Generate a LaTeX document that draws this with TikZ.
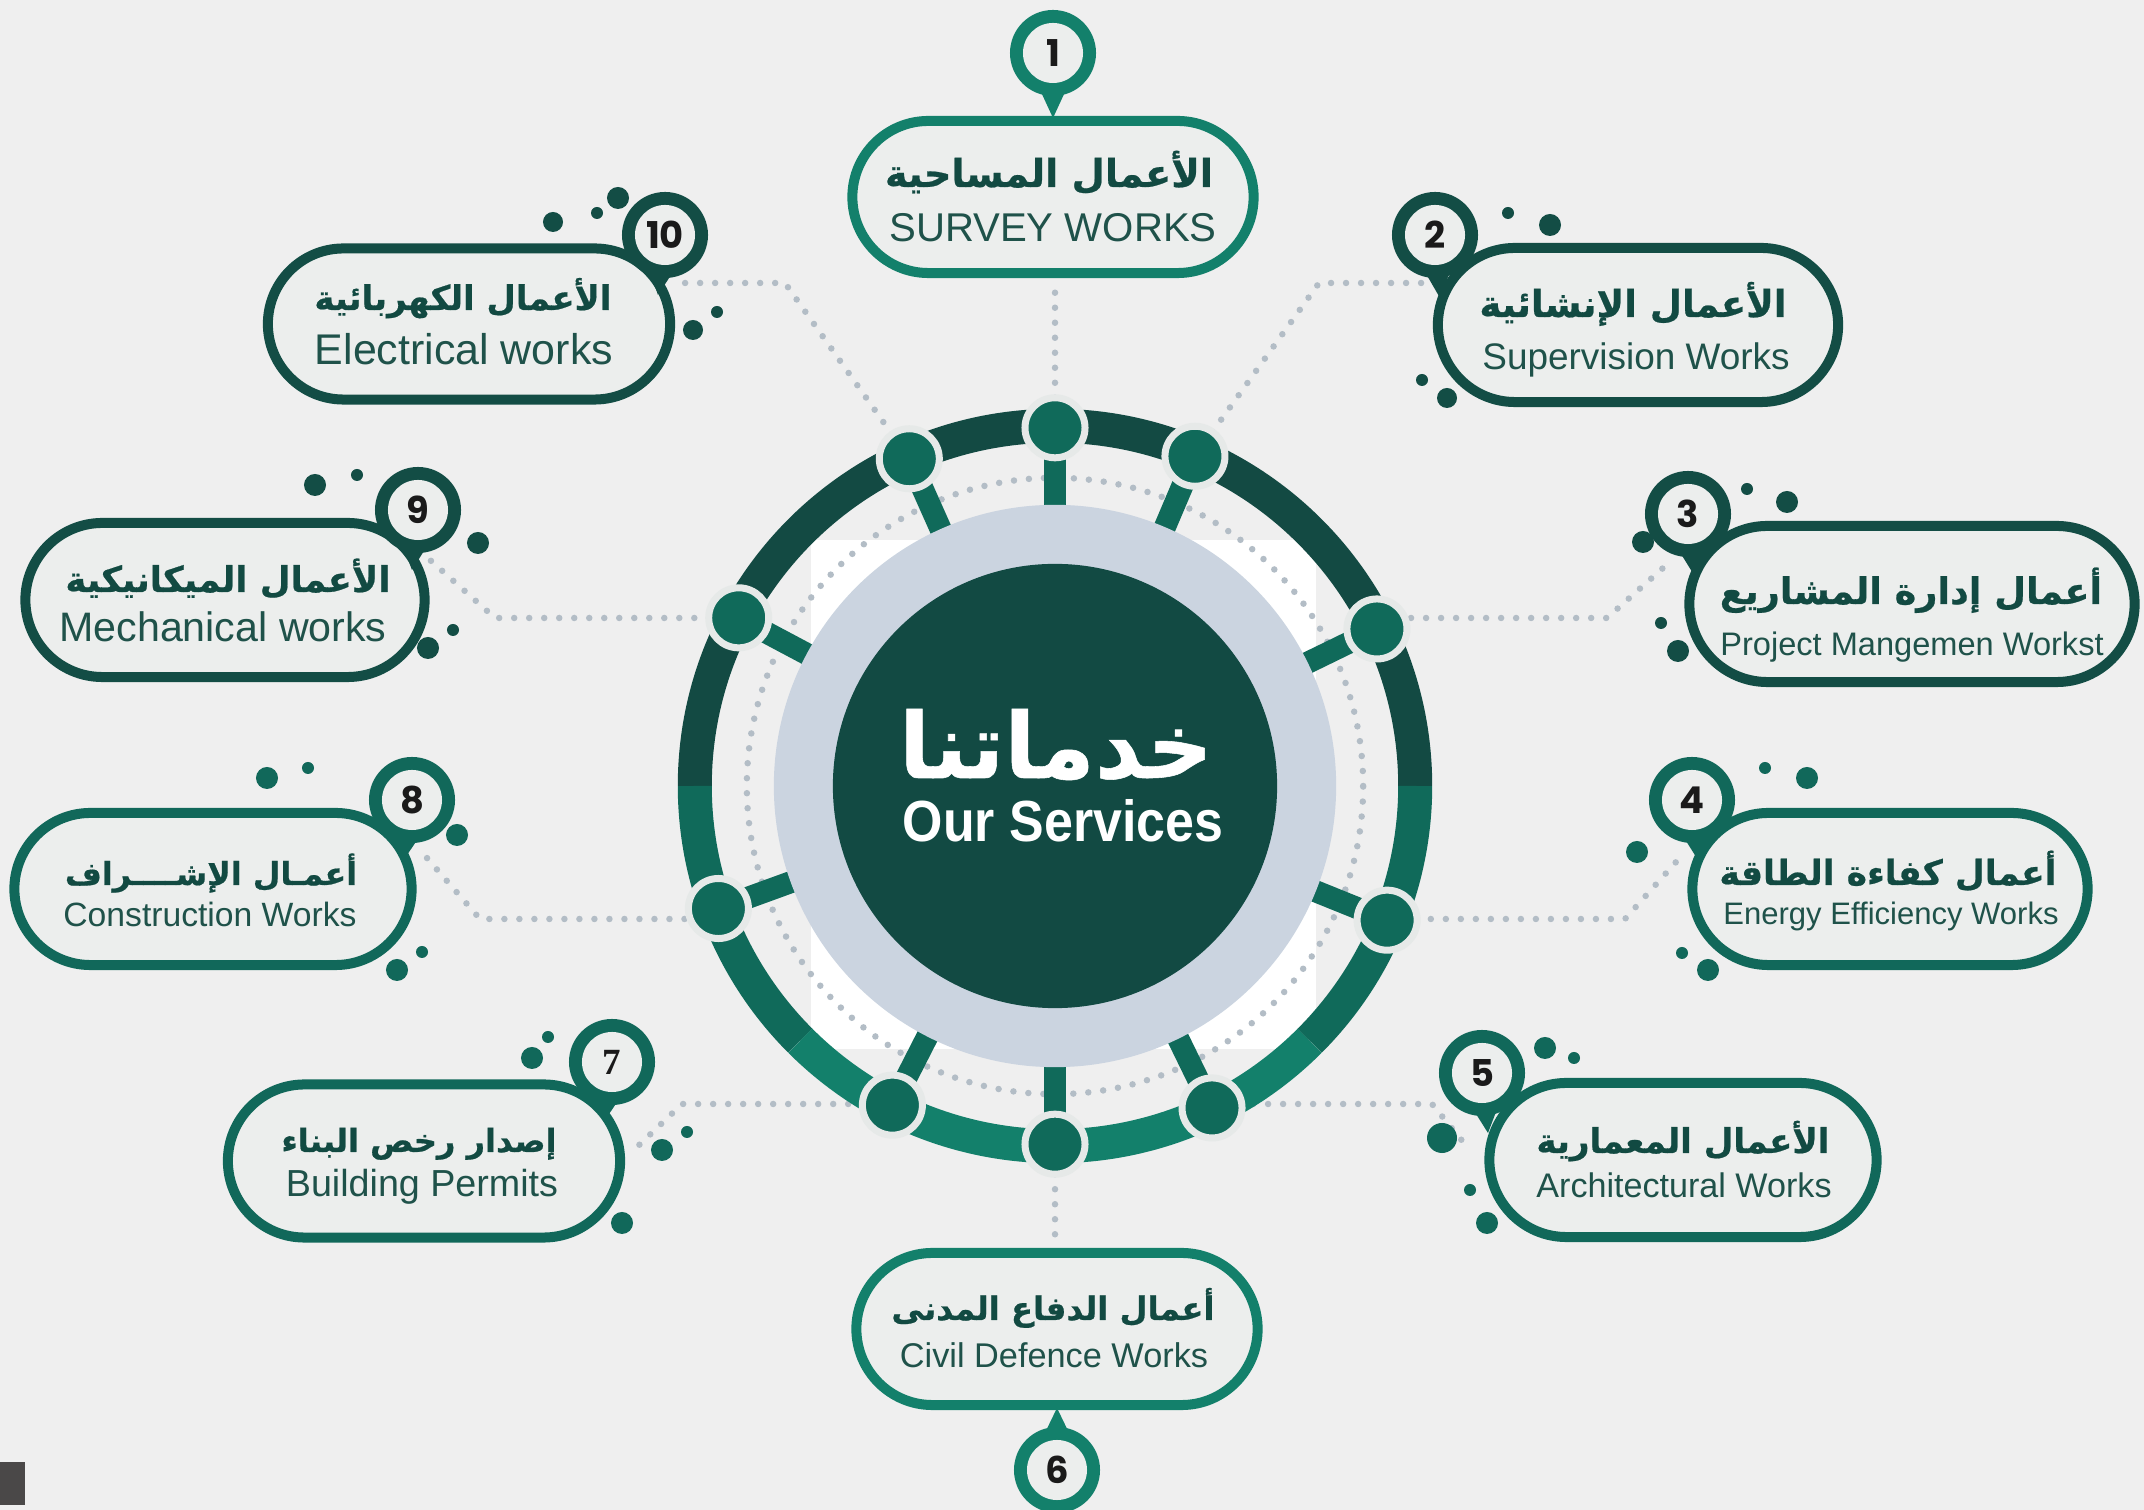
\documentclass[tikz,border=0pt]{standalone}
\usepackage{fontspec}
\setmainfont{Liberation Sans}
\newfontfamily\arabicfont[Script=Arabic,BoldFeatures={FakeBold=0.6}]{DejaVu Sans}
\newfontfamily\numfont{Poppins}
\newfontfamily\sernumfont{Liberation Serif}
\usetikzlibrary{calc,shapes.misc}
\TeXXeTstate=1
\definecolor{bg}{HTML}{EFEFEF}
\definecolor{dk}{HTML}{134D45}
\definecolor{md}{HTML}{11685A}
\definecolor{tl}{HTML}{13806B}
\definecolor{boxfill}{HTML}{ECEEED}
\definecolor{artxt}{HTML}{124A42}
\definecolor{entxt}{HTML}{1F524A}
\definecolor{dotgrey}{HTML}{B3BDC6}
\definecolor{halo}{HTML}{CBD4E0}
\definecolor{core}{HTML}{124A43}
\definecolor{ringdk}{HTML}{134A43}
\definecolor{ringmd}{HTML}{106A5A}
\definecolor{ringtl}{HTML}{13806B}
\definecolor{nodering}{HTML}{E6E9E8}
\definecolor{numtxt}{HTML}{1A1A1A}
\definecolor{cornerc}{HTML}{4A4848}
\newcommand\ar[1]{{\arabicfont\bfseries\beginR #1\endR}}
\newcommand\pinmark[5]{%
  \coordinate (#1c) at (#3);
  \coordinate (#1t) at (#4);
  \fill[#2] ($(#1c)!0.3cm!90:(#1t)$) -- (#1t) -- ($(#1c)!0.3cm!-90:(#1t)$) -- cycle;
  \node[pinouter, fill=#2] (#1) at (#1c) {};
  \node[pininner] (#1n) at (#1c) {#5};
}
\tikzset{
  pill/.style={rounded rectangle, fill=boxfill, line width=0.1cm, inner sep=0pt},
  pinouter/.style={circle, minimum size=0.86cm, inner sep=0pt},
  pininner/.style={circle, fill=boxfill, minimum size=0.6cm, inner sep=0pt, text=numtxt, font=\numfont\bfseries\fontsize{10.5}{12}\selectfont},
  artext/.style={anchor=base, inner sep=0pt, text=artxt},
  entext/.style={anchor=base, inner sep=0pt, text=entxt},
  dotline/.style={draw=dotgrey, line width=0.065cm, line cap=round, dash pattern=on 0pt off 0.15cm},
  ringarc/.style={line width=0.34cm},
  spoke/.style={draw=ringmd, line width=0.22cm},
  ringnode/.style={circle, fill=ringmd, draw=nodering, line width=0.07cm, minimum size=0.6cm, inner sep=0pt},
}
\begin{document}
\begin{tikzpicture}[x=0.01cm,y=-0.01cm]
\fill[bg] (0,0) rectangle (2144,1510);
\useasboundingbox (0,0) rectangle (2144,1510);
% corner mark
\fill[cornerc] (0,1462) rectangle (25,1505);
% centre
\coordinate (C) at (1055,786);
\fill[white] (811,540) rectangle (1316,1049);
% ring node coordinates
\coordinate (n1) at ($(C)+(90:3.58cm)$);
\coordinate (n2) at ($(C)+(67:3.58cm)$);
\coordinate (n3) at ($(C)+(26:3.58cm)$);
\coordinate (n4) at ($(C)+(-22:3.58cm)$);
\coordinate (n5) at ($(C)+(-64:3.58cm)$);
\coordinate (n6) at ($(C)+(-90:3.58cm)$);
\coordinate (n7) at ($(C)+(-117:3.58cm)$);
\coordinate (n8) at ($(C)+(200:3.58cm)$);
\coordinate (n9) at ($(C)+(152:3.58cm)$);
\coordinate (n10) at ($(C)+(114:3.58cm)$);
% boxes
\node[pill, draw=tl, minimum width=4.01cm, minimum height=1.52cm] (b1) at (1053,197) {};
\node[pill, draw=dk, minimum width=4.00cm, minimum height=1.54cm] (b2) at (1638,325) {};
\node[pill, draw=dk, minimum width=4.45cm, minimum height=1.56cm] (b3) at (1912,604) {};
\node[pill, draw=md, minimum width=3.95cm, minimum height=1.52cm] (b4) at (1890,889) {};
\node[pill, draw=md, minimum width=3.87cm, minimum height=1.54cm] (b5) at (1683,1160) {};
\node[pill, draw=tl, minimum width=4.01cm, minimum height=1.52cm] (b6) at (1057,1329) {};
\node[pill, draw=md, minimum width=3.92cm, minimum height=1.53cm] (b7) at (424,1161) {};
\node[pill, draw=md, minimum width=3.97cm, minimum height=1.52cm] (b8) at (213,889) {};
\node[pill, draw=dk, minimum width=3.99cm, minimum height=1.54cm] (b9) at (225,600) {};
\node[pill, draw=dk, minimum width=4.02cm, minimum height=1.51cm] (b10) at (469,324) {};
% connector bends
\coordinate (k2a) at (1319,283); \coordinate (k2b) at (1430,283);
\coordinate (k3s) at (1377,618); \coordinate (k3a) at (1607,618); \coordinate (k3b) at (1672,560);
\coordinate (k4s) at (1387,919); \coordinate (k4a) at (1625,919); \coordinate (k4b) at (1685,852);
\coordinate (k5s) at (1212,1104); \coordinate (k5a) at (1432,1104); \coordinate (k5b) at (1468,1148);
\coordinate (k7s) at (892,1104); \coordinate (k7a) at (682,1104); \coordinate (k7b) at (636,1148);
\coordinate (k8s) at (719,919); \coordinate (k8a) at (480,919); \coordinate (k8b) at (420,850);
\coordinate (k9s) at (739,618); \coordinate (k9a) at (495,618); \coordinate (k9b) at (430,560);
\coordinate (k10a) at (785,283); \coordinate (k10b) at (680,283);
\draw[dotline] (n1) -- (n1 |- b1.south);
\draw[dotline] (n2) -- (k2a) -- (k2b);
\draw[dotline] (n3) -- (k3s) -- (k3a) -- (k3b);
\draw[dotline] (n4) -- (k4s) -- (k4a) -- (k4b);
\draw[dotline] (n5) -- (k5s) -- (k5a) -- (k5b);
\draw[dotline] (n6) -- (n6 |- b6.north);
\draw[dotline] (n7) -- (k7s) -- (k7a) -- (k7b);
\draw[dotline] (n8) -- (k8s) -- (k8a) -- (k8b);
\draw[dotline] (n9) -- (k9s) -- (k9a) -- (k9b);
\draw[dotline] (n10) -- (k10a) -- (k10b);
% dotted circle
\draw[dotline] (C) circle[radius=3.08cm];
% ring
\draw[ringarc, ringdk] ($(C)+(0:3.6cm)$) arc[start angle=0, end angle=180, radius=3.6cm];
\draw[ringarc, ringmd] ($(C)+(180:3.6cm)$) arc[start angle=180, end angle=225, radius=3.6cm];
\draw[ringarc, ringtl] ($(C)+(225:3.6cm)$) arc[start angle=225, end angle=315, radius=3.6cm];
\draw[ringarc, ringmd] ($(C)+(315:3.6cm)$) arc[start angle=315, end angle=360, radius=3.6cm];
% spokes
\foreach \i in {1,...,10} { \draw[spoke] (n\i) -- ($(C)!2.7cm!(n\i)$); }
% halo and core
\node[circle, fill=halo, minimum size=5.62cm, inner sep=0pt] (halo) at (C) {};
\node[circle, fill=core, minimum size=4.44cm, inner sep=0pt] (core) at (C) {};
\node[anchor=base, inner sep=0pt, text=white] (t1) at (1056,778) {\resizebox{3.14cm}{!}{\raisebox{0pt}[\height][0pt]{\ar{خدماتنا}}}};
\node[anchor=base, inner sep=0pt, text=white] (t2) at (1063,842) {\resizebox{3.2cm}{0.42cm}{\bfseries Our Services}};
% ring nodes
\foreach \i in {1,...,10} { \node[ringnode] (N\i) at (n\i) {}; }
% decorative dots
\fill[dk] (1508,213) circle[radius=0.06cm] (1550,225) circle[radius=0.11cm] (1422,380) circle[radius=0.06cm] (1447,398) circle[radius=0.10cm];
\fill[dk] (1747,489) circle[radius=0.06cm] (1787,502) circle[radius=0.11cm] (1643,542) circle[radius=0.11cm] (1661,623) circle[radius=0.06cm] (1678,651) circle[radius=0.11cm];
\fill[md] (1765,768) circle[radius=0.06cm] (1807,778) circle[radius=0.11cm] (1637,852) circle[radius=0.11cm] (1682,953) circle[radius=0.06cm] (1708,970) circle[radius=0.11cm];
\fill[md] (1545,1048) circle[radius=0.11cm] (1574,1058) circle[radius=0.06cm] (1442,1138) circle[radius=0.15cm] (1470,1190) circle[radius=0.06cm] (1487,1223) circle[radius=0.11cm];
\fill[md] (532,1058) circle[radius=0.11cm] (548,1037) circle[radius=0.06cm] (687,1132) circle[radius=0.06cm] (662,1150) circle[radius=0.11cm] (622,1223) circle[radius=0.11cm];
\fill[md] (267,778) circle[radius=0.11cm] (308,768) circle[radius=0.06cm] (457,835) circle[radius=0.11cm] (422,952) circle[radius=0.06cm] (397,970) circle[radius=0.11cm];
\fill[dk] (315,485) circle[radius=0.11cm] (357,475) circle[radius=0.06cm] (478,543) circle[radius=0.11cm] (453,630) circle[radius=0.06cm] (428,648) circle[radius=0.11cm];
\fill[dk] (553,222) circle[radius=0.10cm] (597,213) circle[radius=0.06cm] (618,198) circle[radius=0.11cm] (717,312) circle[radius=0.06cm] (693,330) circle[radius=0.10cm];
% pins
\pinmark{m1}{tl}{1053,53}{1053,118}{1}
\pinmark{m2}{dk}{1435,235}{1440,298}{2}
\pinmark{m3}{dk}{1688,514}{1694,575}{3}
\pinmark{m4}{md}{1692,800}{1698,860}{4}
\pinmark{m5}{md}{1482,1073}{1488,1133}{5}
\pinmark{m6}{tl}{1057,1470}{1057,1408}{6}
\pinmark{m7}{md}{612,1062}{605,1120}{{\sernumfont\bfseries 7}}
\pinmark{m8}{md}{412,800}{405,858}{8}
\pinmark{m9}{dk}{418,510}{412,570}{9}
\pinmark{m10}{dk}{665,235}{658,295}{10}
% texts
\node[artext] (a1) at (1049,187) {\resizebox{3.28cm}{!}{\ar{الأعمال المساحية}}};
\node[entext] (e1) at (1053,242) {\resizebox{3.27cm}{!}{SURVEY WORKS}};
\node[artext] (a2) at (1633,317) {\resizebox{3.07cm}{!}{\ar{الأعمال الإنشائية}}};
\node[entext] (e2) at (1636,370) {\resizebox{3.07cm}{!}{Supervision Works}};
\node[artext] (a3) at (1911,604) {\resizebox{3.82cm}{!}{\ar{أعمال إدارة المشاريع}}};
\node[entext] (e3) at (1912,656) {\resizebox{3.83cm}{!}{Project Mangemen Workst}};
\node[artext] (a4) at (1888,885) {\resizebox{3.37cm}{!}{\ar{أعمال كفاءة الطاقة}}};
\node[entext] (e4) at (1891,925) {\resizebox{3.35cm}{!}{Energy Efficiency Works}};
\node[artext] (a5) at (1683,1153) {\resizebox{2.93cm}{!}{\ar{الأعمال المعمارية}}};
\node[entext] (e5) at (1684,1198) {\resizebox{2.95cm}{!}{Architectural Works}};
\node[artext] (a6) at (1053,1320) {\resizebox{3.23cm}{!}{\ar{أعمال الدفاع المدنى}}};
\node[entext] (e6) at (1054,1368) {\resizebox{3.08cm}{!}{Civil Defence Works}};
\node[artext] (a7) at (419,1152) {\resizebox{2.75cm}{!}{\ar{إصدار رخص البناء}}};
\node[entext] (e7) at (422,1197) {\resizebox{2.72cm}{!}{Building Permits}};
\node[artext] (a8) at (211,885) {\resizebox{2.92cm}{!}{\ar{أعمـال الإشــــراف}}};
\node[entext] (e8) at (210,927) {\resizebox{2.93cm}{!}{Construction Works}};
\node[artext] (a9) at (228,592) {\resizebox{3.25cm}{!}{\ar{الأعمال الميكانيكية}}};
\node[entext] (e9) at (223,642) {\resizebox{3.27cm}{!}{Mechanical works}};
\node[artext] (a10) at (463,310) {\resizebox{2.97cm}{!}{\ar{الأعمال الكهربائية}}};
\node[entext] (e10) at (464,365) {\resizebox{2.98cm}{!}{Electrical works}};
\end{tikzpicture}
\end{document}
